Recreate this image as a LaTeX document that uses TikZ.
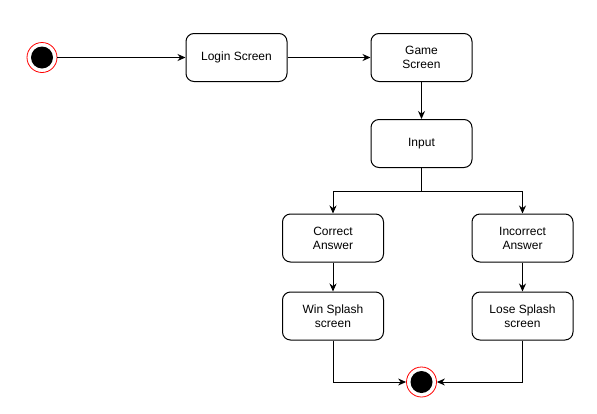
\documentclass[tikz,border=0pt]{standalone}
\usepackage{fontspec}
\setmainfont{Liberation Sans}
\usetikzlibrary{positioning, arrows.meta}

\tikzset{
    screen/.style={draw, rounded corners=8pt, line width=1pt, minimum width=101pt,
        minimum height=48pt, align=center, font=\fontsize{12}{14}\selectfont},
    pseudo/.style={circle, draw=red, line width=0.8pt, fill=white, minimum size=30pt,
        inner sep=0pt,
        path picture={\fill[black] (path picture bounding box.center) circle (11pt);}},
    arr/.style={-{Stealth[length=8pt,width=7pt]}, line width=0.9pt}
}

\begin{document}
\begin{tikzpicture}[x=1pt, y=-1pt, node distance=80pt, on grid]
            \useasboundingbox (0,0) rectangle (597,413);

            \node[pseudo] (start) at (42,57.5) {};
            \node[screen, right=194.5pt of start] (login) {Login Screen};
            \node[screen, right=185pt of login] (game) {Game\\Screen};
            \node[screen, below=86pt of game] (input) {Input};
            \node[screen, below left=94.5pt and 88.5pt of input] (correct) {Correct\\Answer};
            \node[screen, below right=94.5pt and 101pt of input] (incorrect) {Incorrect\\Answer};
            \node[screen, below=78pt of correct] (win) {Win Splash\\screen};
            \node[screen, below=78pt of incorrect] (lose) {Lose Splash\\screen};
            \node[pseudo, below=238.5pt of input] (end) {};
            \coordinate[below=47.5pt of input] (fork);

            \draw[arr] (start) -- (login);
            \draw[arr] (login) -- (game);
            \draw[arr] (game) -- (input);
            \draw[arr] (input.south) -- (fork) -| (correct.north);
            \draw[arr] (fork) -| (incorrect.north);
            \draw[arr] (correct) -- (win);
            \draw[arr] (incorrect) -- (lose);
            \draw[arr] (win.south) |- (end);
            \draw[arr] (lose.south) |- (end);
        \end{tikzpicture}
\end{document}
